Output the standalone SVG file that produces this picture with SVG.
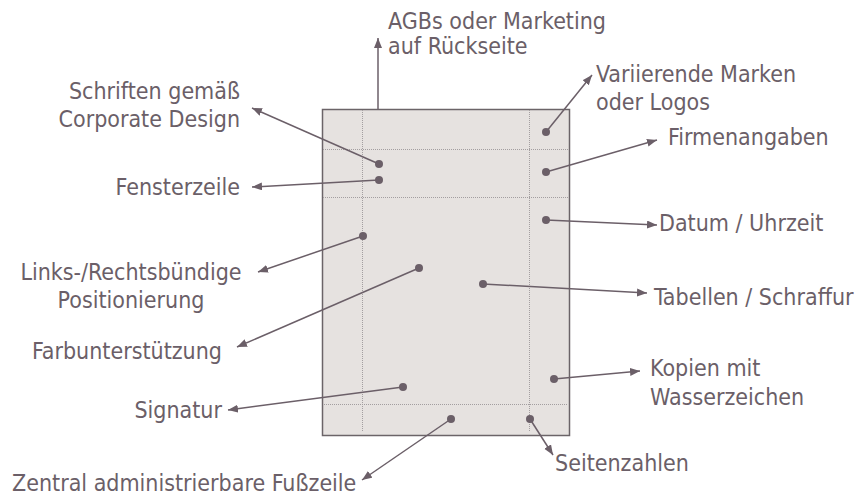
<svg xmlns="http://www.w3.org/2000/svg" width="865" height="499" viewBox="0 0 865 499">
<style>
.lbl{font-family:"DejaVu Sans Condensed","DejaVu Sans",sans-serif;font-size:23px;fill:#6b5f68;font-stretch:condensed}
.end{text-anchor:end}
.mid{text-anchor:middle}
.con{stroke:#6b5f68;stroke-width:1.5;fill:none;marker-end:url(#ah)}
.dot{fill:#6b5f68}
.grid{stroke:#a39ea0;stroke-width:1;stroke-dasharray:1 1;fill:none}
</style>
<defs>
<marker id="ah" markerUnits="userSpaceOnUse" markerWidth="11" markerHeight="9" refX="10" refY="4" orient="auto" viewBox="0 0 11 9">
<path d="M0,0 L10,4 L0,8 z" fill="#6b5f68"/>
</marker>
</defs>
<g id="page">
<rect x="322.5" y="109.5" width="247" height="326" fill="#e6e2e0" stroke="#6b6468" stroke-width="1.5"/>
<line class="grid" x1="362.5" y1="110" x2="362.5" y2="431"/>
<line class="grid" x1="529.5" y1="110" x2="529.5" y2="431"/>
<line class="grid" x1="323" y1="149.5" x2="568" y2="149.5"/>
<line class="grid" x1="323" y1="197.5" x2="568" y2="197.5"/>
<line class="grid" x1="324" y1="404.5" x2="568" y2="404.5"/>
</g>
<g id="connectors">
<line class="con" x1="378" y1="109" x2="378" y2="38"/>
<line class="con" x1="546" y1="132" x2="592" y2="75"/>
<line class="con" x1="379" y1="164" x2="252" y2="108"/>
<line class="con" x1="379" y1="180" x2="252" y2="187"/>
<line class="con" x1="546" y1="172" x2="657" y2="140"/>
<line class="con" x1="546" y1="220" x2="657" y2="225"/>
<line class="con" x1="363" y1="236" x2="258" y2="272"/>
<line class="con" x1="419" y1="268" x2="237" y2="347"/>
<line class="con" x1="483" y1="284" x2="647" y2="293"/>
<line class="con" x1="554" y1="379" x2="640" y2="371"/>
<line class="con" x1="403" y1="387" x2="228" y2="410"/>
<line class="con" x1="451" y1="419" x2="362" y2="480"/>
<line class="con" x1="530" y1="419" x2="553" y2="455"/>
</g>
<g id="dots">
<circle class="dot" cx="546" cy="132" r="4"/>
<circle class="dot" cx="379" cy="164" r="4"/>
<circle class="dot" cx="379" cy="180" r="4"/>
<circle class="dot" cx="546" cy="172" r="4"/>
<circle class="dot" cx="546" cy="220" r="4"/>
<circle class="dot" cx="363" cy="236" r="4"/>
<circle class="dot" cx="419" cy="268" r="4"/>
<circle class="dot" cx="483" cy="284" r="4"/>
<circle class="dot" cx="554" cy="379" r="4"/>
<circle class="dot" cx="403" cy="387" r="4"/>
<circle class="dot" cx="451" cy="419" r="4"/>
<circle class="dot" cx="530" cy="419" r="4"/>
</g>
<g id="agb"><text class="lbl" x="388" y="29">AGBs oder Marketing</text><text class="lbl" x="388" y="54">auf Rückseite</text></g>
<g id="schriften"><text class="lbl end" x="240" y="99">Schriften gemäß</text><text class="lbl end" x="240" y="127">Corporate Design</text></g>
<g id="fensterzeile"><text class="lbl end" x="240" y="195">Fensterzeile</text></g>
<g id="variierende"><text class="lbl" x="596" y="82">Variierende Marken</text><text class="lbl" x="596" y="110">oder Logos</text></g>
<g id="firmenangaben"><text class="lbl" x="668" y="145">Firmenangaben</text></g>
<g id="datum"><text class="lbl" x="659" y="231">Datum / Uhrzeit</text></g>
<g id="links"><text class="lbl mid" x="131" y="280">Links-/Rechtsbündige</text><text class="lbl mid" x="131" y="308">Positionierung</text></g>
<g id="tabellen"><text class="lbl" x="654" y="305">Tabellen / Schraffur</text></g>
<g id="farb"><text class="lbl end" x="222" y="359">Farbunterstützung</text></g>
<g id="kopien"><text class="lbl" x="650" y="376">Kopien mit</text><text class="lbl" x="650" y="405">Wasserzeichen</text></g>
<g id="signatur"><text class="lbl end" x="222" y="418">Signatur</text></g>
<g id="fusszeile"><text class="lbl" x="12" y="491">Zentral administrierbare Fußzeile</text></g>
<g id="seitenzahlen"><text class="lbl" x="555" y="471">Seitenzahlen</text></g>
</svg>
